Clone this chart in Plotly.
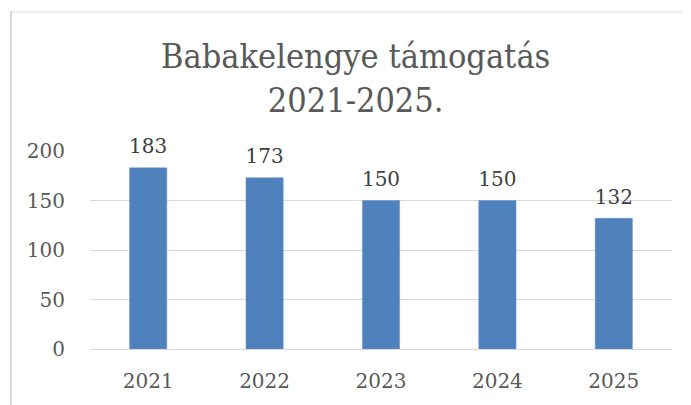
import plotly.graph_objects as go

years = ["2021", "2022", "2023", "2024", "2025"]
values = [183, 173, 150, 150, 132]
y_ticks = [0, 50, 100, 150, 200]
title_lines = ["Babakelengye támogatás", "2021-2025."]

# page body has an 8px default margin; figure sized to fit the window
OFF = 8
W, H = 691 - OFF, 405 - OFF
L, R, T, B = 90 - OFF, 19, 151 - OFF, 54
pw, ph = W - L - R, H - T - B

def px_to_paper_x(px):
    return (px - OFF - L) / pw

def px_to_paper_y(py):
    return (H - B - (py - OFF)) / ph

fig = go.Figure()
fig.add_trace(go.Bar(
    x=years, y=values,
    marker=dict(color="#4F81BD", line=dict(color="#6A93C8", width=0.5)),
    width=0.32,
    hoverinfo="x+y",
))
# data labels above the bars (invisible markers set the gap)
fig.add_trace(go.Scatter(
    x=years, y=values,
    mode="markers+text",
    marker=dict(size=14, opacity=0),
    text=[str(v) for v in values],
    textposition="top center",
    textfont=dict(family="DejaVu Serif", size=20, color="#404040"),
    cliponaxis=False,
    hoverinfo="skip",
))

fig.add_annotation(
    xref="paper", yref="paper",
    x=px_to_paper_x(355), y=px_to_paper_y(33),
    xanchor="center", yanchor="top",
    text="<br>".join(title_lines), showarrow=False,
    font=dict(family="DejaVu Serif Condensed", size=34, color="#595959"),
)

fig.update_layout(
    width=W, height=H,
    margin=dict(l=L, r=R, t=T, b=B, pad=0),
    paper_bgcolor="white", plot_bgcolor="white",
    showlegend=False,
    xaxis=dict(
        type="category", range=[-0.5, len(years) - 0.5],
        showgrid=False, showline=False, ticks="",
        tickfont=dict(family="DejaVu Serif", size=20, color="#595959"),
        ticklabelstandoff=18,
    ),
    yaxis=dict(
        range=[0, 200], tickvals=y_ticks,
        showgrid=True, gridcolor="#D9D9D9", gridwidth=1,
        zeroline=True, zerolinecolor="#D9D9D9", zerolinewidth=1,
        showline=False, ticks="",
        tickfont=dict(family="DejaVu Serif", size=20, color="#595959"),
        ticklabelstandoff=24,
    ),
    shapes=[
        dict(type="line", xref="paper", yref="paper",
             x0=px_to_paper_x(11), x1=px_to_paper_x(11),
             y0=px_to_paper_y(10), y1=px_to_paper_y(420),
             line=dict(color="#D9D9D9", width=2)),
        dict(type="line", xref="paper", yref="paper",
             x0=px_to_paper_x(10), x1=px_to_paper_x(700),
             y0=px_to_paper_y(10.5), y1=px_to_paper_y(10.5),
             line=dict(color="#D9D9D9", width=1)),
    ],
)

fig.write_html("out.html")
